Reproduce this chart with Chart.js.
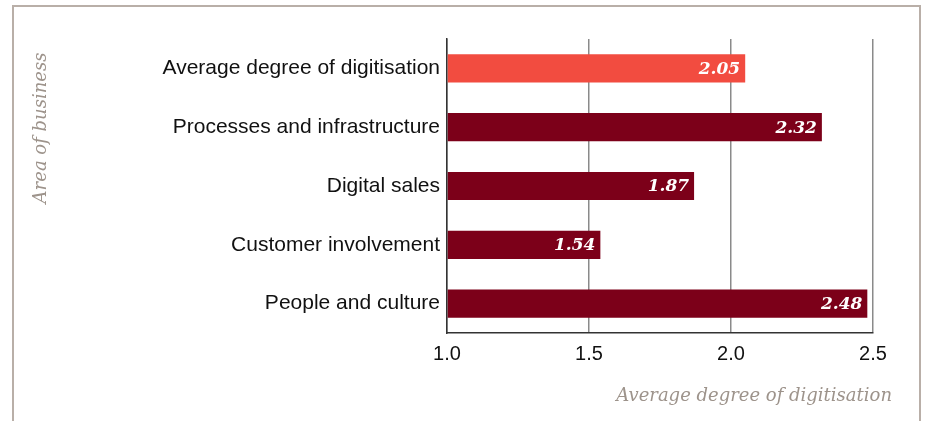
<!DOCTYPE html>
<html>
<head>
<meta charset="utf-8">
<script src="https://cdn.jsdelivr.net/npm/chart.js@4.4.1/dist/chart.umd.min.js"></script>
<style>
  html, body { margin: 0; padding: 0; background: #fff; }
  #wrap { position: relative; width: 925px; height: 421px; }
</style>
</head>
<body>
<div id="wrap"><canvas id="digiChart"></canvas></div>
<script>
// Degree of digitisation by area of business
const areas = ['Average degree of digitisation', 'Processes and infrastructure', 'Digital sales', 'Customer involvement', 'People and culture'];
const scores = [2.05, 2.32, 1.87, 1.54, 2.48];
const barColors = ['#f24c40', '#7c0019', '#7c0019', '#7c0019', '#7c0019'];
const xTicks = [1.0, 1.5, 2.0, 2.5];

const serif = '"DejaVu Serif", serif';
const sans = '"Liberation Sans", Arial, sans-serif';

// frame, axis titles and value labels
const decorations = {
    id: 'decorations',
    afterDatasetsDraw(chart) {
        const ctx = chart.ctx;
        const meta = chart.getDatasetMeta(0);
        ctx.save();
        ctx.fillStyle = '#fff';
        ctx.font = 'italic bold 17px ' + serif;
        ctx.textAlign = 'right';
        ctx.textBaseline = 'middle';
        meta.data.forEach((bar, i) => {
            ctx.fillText(scores[i].toFixed(2), bar.x - 5, bar.y + 1);
        });
        ctx.restore();
    },
    afterDraw(chart) {
        const ctx = chart.ctx;
        ctx.save();
        ctx.strokeStyle = '#b9afa8';
        ctx.lineWidth = 2;
        ctx.beginPath();
        ctx.moveTo(13, 421);
        ctx.lineTo(13, 6);
        ctx.lineTo(920, 6);
        ctx.lineTo(920, 421);
        ctx.stroke();

        ctx.fillStyle = '#9d938b';
        ctx.font = 'italic 18px ' + serif;
        ctx.textAlign = 'right';
        ctx.textBaseline = 'alphabetic';
        ctx.fillText('Average degree of digitisation', 892, 401);

        ctx.translate(46, 128);
        ctx.rotate(-Math.PI / 2);
        ctx.textAlign = 'center';
        ctx.fillText('Area of business', 0, 0);
        ctx.restore();
    }
};

const digiCtx = document.getElementById('digiChart').getContext('2d');
const digiChart = new Chart(digiCtx, {
    type: 'bar',
    data: {
        labels: areas,
        datasets: [{
            data: scores,
            backgroundColor: barColors,
            borderWidth: 0,
            barPercentage: 0.48,
            categoryPercentage: 1.0,
            base: 1.0
        }]
    },
    options: {
        indexAxis: 'y',
        responsive: true,
        maintainAspectRatio: false,
        animation: false,
        layout: { padding: { left: 0, right: 52, top: 39, bottom: 0 } },
        plugins: {
            legend: { display: false },
            tooltip: { enabled: false }
        },
        scales: {
            x: {
                min: 1.0,
                max: 2.5,
                afterBuildTicks(scale) {
                    scale.ticks = xTicks.map(v => ({ value: v }));
                },
                afterFit(scale) { scale.height = 88; },
                grid: {
                    color: '#8a8a8a',
                    lineWidth: 1.5,
                    drawTicks: false
                },
                border: { display: true, color: '#333', width: 1.5 },
                ticks: {
                    padding: 9,
                    color: '#111',
                    font: { family: sans, size: 20 },
                    callback: v => v.toFixed(1)
                }
            },
            y: {
                afterFit(scale) { scale.width = 447; },
                grid: { display: false, drawTicks: false },
                border: { display: true, color: '#333', width: 1.5 },
                ticks: {
                    padding: 7,
                    color: '#111',
                    font: { family: sans, size: 21 }
                }
            }
        }
    },
    plugins: [decorations]
});
</script>
</body>
</html>
